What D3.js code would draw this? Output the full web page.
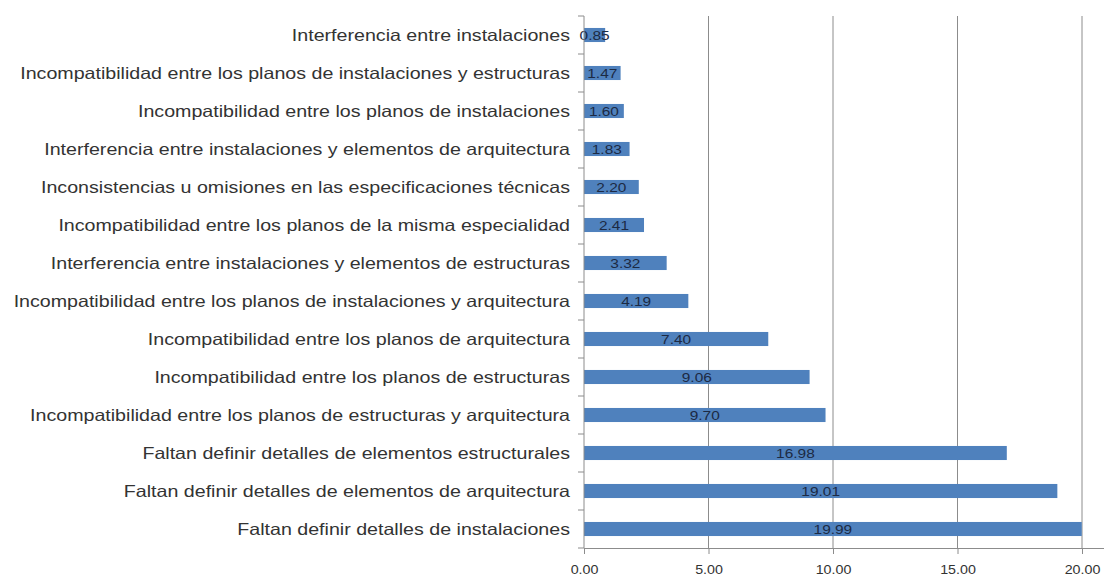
<!DOCTYPE html>
<head>
  <meta charset="utf-8">
  <script src="https://d3js.org/d3.v7.min.js"></script>
  <style>
    body { margin: 0; background: #fff; }
    text { font-family: "Liberation Sans", Arial, sans-serif; }
  </style>
</head>
<body>
  <div id="graph"></div>
  <script>
    // categories from top to bottom
    var categories = [
      "Interferencia entre instalaciones",
      "Incompatibilidad entre los planos de instalaciones y estructuras",
      "Incompatibilidad entre los planos de instalaciones",
      "Interferencia entre instalaciones y elementos de arquitectura",
      "Inconsistencias u omisiones en las especificaciones técnicas",
      "Incompatibilidad entre los planos de la misma especialidad",
      "Interferencia entre instalaciones y elementos de estructuras",
      "Incompatibilidad entre los planos de instalaciones y arquitectura",
      "Incompatibilidad entre los planos de arquitectura",
      "Incompatibilidad entre los planos de estructuras",
      "Incompatibilidad entre los planos de estructuras y arquitectura",
      "Faltan definir detalles de elementos estructurales",
      "Faltan definir detalles de elementos de arquitectura",
      "Faltan definir detalles de instalaciones"
    ];
    var values = [0.85, 1.47, 1.60, 1.83, 2.20, 2.41, 3.32, 4.19, 7.40, 9.06, 9.70, 16.98, 19.01, 19.99];
    var xTicks = [0, 5, 10, 15, 20];

    var width = 1107, height = 577;
    var xmin = 584, xmax = 1082, ytop = 16, ybottom = 548;
    var stretch = 1.19; // the source text looks widened

    var svg = d3.select("#graph").append("svg")
      .attr("width", width)
      .attr("height", height);

    var x = d3.scaleLinear().domain([0, 20]).range([xmin, xmax]);
    var y = d3.scaleBand().domain(categories).range([ytop, ybottom]).paddingInner(0.63).paddingOuter(0.315);

    // gridlines
    svg.append("g").selectAll("line")
      .data(xTicks.slice(1)).enter()
      .append("line")
      .attr("x1", d => x(d)).attr("x2", d => x(d))
      .attr("y1", ytop).attr("y2", ybottom)
      .attr("stroke", "#8c8c8c").attr("stroke-width", 1);

    // bars
    svg.append("g").selectAll("rect")
      .data(values).enter()
      .append("rect")
      .attr("x", x(0))
      .attr("y", (d, i) => y(categories[i]))
      .attr("width", d => x(d) - x(0))
      .attr("height", y.bandwidth())
      .attr("fill", "#4f81bd");

    // value labels
    svg.append("g").selectAll("text")
      .data(values).enter()
      .append("text")
      .attr("transform", (d, i) => "translate(" + ((x(0) + x(d)) / 2) + "," + (y(categories[i]) + y.bandwidth() / 2 + 5) + ") scale(" + stretch + ",1)")
      .attr("text-anchor", "middle")
      .attr("font-size", 13)
      .attr("fill", "#1c2a44")
      .text(d => d.toFixed(2));

    // x axis
    var xAxis = d3.axisBottom(x).tickValues(xTicks).tickSize(6).tickFormat(d3.format(".2f"));
    var gx = svg.append("g")
      .attr("transform", "translate(0," + ybottom + ")")
      .call(xAxis);
    gx.select(".domain").attr("stroke", "#8c8c8c").attr("d", "M" + xmin + ",0.5H" + (xmax + 22));
    gx.selectAll(".tick line").attr("stroke", "#8c8c8c");
    gx.selectAll(".tick text")
      .attr("y", null).attr("dy", null)
      .attr("transform", "translate(0,26) scale(" + stretch + ",1)")
      .attr("font-size", 12).attr("fill", "#333")
      .attr("font-family", "Liberation Sans, Arial, sans-serif");

    // y axis with ticks at band boundaries
    var gy = svg.append("g");
    gy.append("line")
      .attr("x1", xmin).attr("x2", xmin)
      .attr("y1", ytop).attr("y2", ybottom)
      .attr("stroke", "#8c8c8c");
    gy.selectAll(".ytick")
      .data(d3.range(categories.length + 1)).enter()
      .append("line")
      .attr("x1", xmin - 6).attr("x2", xmin)
      .attr("y1", i => ytop + i * (ybottom - ytop) / categories.length)
      .attr("y2", i => ytop + i * (ybottom - ytop) / categories.length)
      .attr("stroke", "#8c8c8c");

    gy.selectAll(".ylab")
      .data(categories).enter()
      .append("text")
      .attr("transform", d => "translate(570," + (y(d) + y.bandwidth() / 2 + 6) + ") scale(" + stretch + ",1)")
      .attr("text-anchor", "end")
      .attr("font-size", 16.5)
      .attr("fill", "#333")
      .text(d => d);
  </script>
</body>
